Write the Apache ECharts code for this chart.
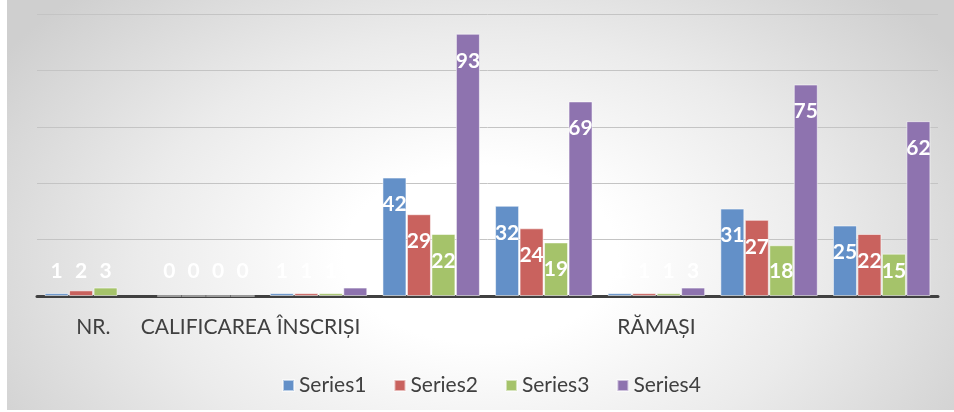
<!DOCTYPE html>
<html>
<head>
<meta charset="utf-8">
<script src="https://cdn.jsdelivr.net/npm/echarts@6/dist/echarts.min.js"></script>
<style>
  html, body { margin: 0; padding: 0; background: #fff; }
  #bg {
    position: absolute; left: 7px; top: 0; width: 947px; height: 410px;
    background: radial-gradient(ellipse 60% 90% at 50% 62%, #ffffff 0%, #ffffff 24%, #ebebeb 60%, #cfcfcf 100%);
  }
  #chart { position: absolute; left: 0; top: 0; width: 954px; height: 412px; }
</style>
</head>
<body>
<div id="bg"></div>
<div id="chart"></div>
<script>
const categories = ['NR.', 'CALIFICAREA', 'ÎNSCRIȘI', '', '', 'RĂMAȘI', '', '']
const seriesNames = ['Series1', 'Series2', 'Series3', 'Series4']
const series1 = [1, 0, 1, 42, 32, 1, 31, 25]
const series2 = [2, 0, 1, 29, 24, 1, 27, 22]
const series3 = [3, 0, 1, 22, 19, 1, 18, 15]
const series4 = [null, 0, 3, 93, 69, 3, 75, 62]
const colors = ['#6390C8', '#C9625E', '#A5C36A', '#8E73AF']

const chart = echarts.init(document.getElementById('chart'))

const series = [series1, series2, series3, series4].map((data, i) => ({
  name: seriesNames[i],
  type: 'bar',
  data: data.map(v => (v === null ? '-' : v)),
  barWidth: 24,
  barGap: '2%',
  itemStyle: {
    color: colors[i],
    borderColor: 'rgba(255,255,255,0.55)',
    borderWidth: 1,
  },
  label: {
    show: true,
    position: 'inside',
    color: '#fff',
    fontFamily: 'Lato',
    fontWeight: 'bold',
    fontSize: 21,
  },
  labelLayout(params) {
    const r = params.rect
    // inside end, but never lower than just above the axis
    return {
      x: r.x + r.width / 2,
      y: Math.min(r.y + 27, r.y + r.height - 25),
      align: 'center',
      verticalAlign: 'middle',
    }
  },
}))

chart.setOption({
  animation: false,
  backgroundColor: 'transparent',
  color: colors,
  grid: { left: 37, right: 16, top: 14, bottom: 116 },
  legend: {
    data: seriesNames,
    left: 277,
    top: 370,
    icon: 'rect',
    itemWidth: 11,
    itemHeight: 11,
    itemGap: 27,
    textStyle: { color: '#404040', fontFamily: 'Lato', fontSize: 21 },
  },
  xAxis: {
    type: 'category',
    data: categories,
    axisLine: { lineStyle: { color: '#404040', width: 3 } },
    axisTick: { show: false },
    axisLabel: {
      interval: 0,
      color: '#404040',
      fontFamily: 'Lato',
      fontSize: 21,
      margin: 21,
    },
  },
  yAxis: {
    type: 'value',
    min: 0,
    max: 100,
    interval: 20,
    axisLine: { show: false },
    axisTick: { show: false },
    axisLabel: { show: false },
    splitLine: { lineStyle: { color: '#c4c4c4', width: 1 } },
  },
  series,
})
</script>
</body>
</html>
